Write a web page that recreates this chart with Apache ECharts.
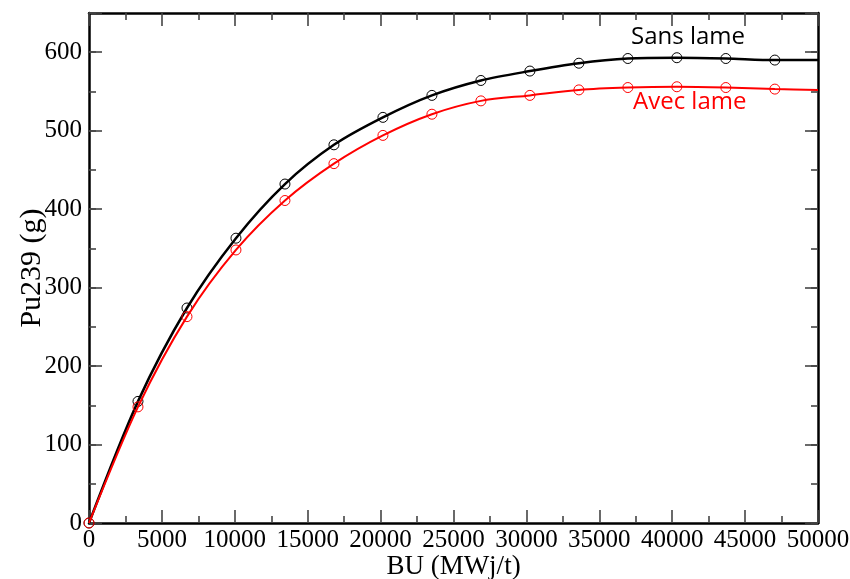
<!DOCTYPE html>
<html>
<head>
<meta charset="utf-8">
<script src="https://cdn.jsdelivr.net/npm/echarts@6/dist/echarts.min.js"></script>
<style>
html,body{margin:0;padding:0;background:#fff;}
#chart{width:850px;height:579px;}
</style>
</head>
<body>
<div id="chart"></div>
<script>
// Burnup (MWj/t)
var bu = [0, 3360, 6720, 10080, 13440, 16800, 20160, 23520, 26880, 30240, 33600, 36960, 40320, 43680, 47040, 50000];
// Pu239 (g) - Sans lame
var sansLame = [0, 155, 274, 363, 432, 482, 517, 545, 564, 576, 586, 592, 593, 592, 590, 590];
// Pu239 (g) - Avec lame
var avecLame = [0, 148, 263, 348, 411, 458, 494, 521, 538, 545, 552, 555, 556, 555, 553, 552];

var xTitle = 'BU (MWj/t)';
var yTitle = 'Pu239 (g)';
var nameSans = 'Sans lame';
var nameAvec = 'Avec lame';

function build(ys) {
  return bu.map(function (x, i) {
    var p = { value: [x, ys[i]] };
    if (i === bu.length - 1) p.symbol = 'none';
    return p;
  });
}

var serif = '"Liberation Serif", "DejaVu Serif", serif';
var tickStyle = { color: '#444', width: 1.6 };

// Tick-only y axis (no labels, no name)
function yTicks(gridIndex, pos, interval, len, line) {
  return {
    type: 'value', gridIndex: gridIndex, position: pos, min: 0, max: 650, interval: interval,
    splitLine: { show: false },
    axisLine: { show: line, lineStyle: { color: '#000', width: 2.5 } },
    axisTick: { show: true, inside: true, length: len, lineStyle: tickStyle },
    axisLabel: { show: false }
  };
}

// Label/name-only y axis
var yLabelAxis = {
  type: 'value', gridIndex: 3, position: 'left', min: 0, max: 650, interval: 100,
  splitLine: { show: false },
  axisLine: { show: false },
  axisTick: { show: false },
  axisLabel: {
    show: true, color: '#000', fontFamily: serif, fontSize: 25, margin: 7,
    formatter: function (v) { return v % 100 === 0 ? String(v) : ''; }
  },
  name: yTitle, nameLocation: 'middle', nameGap: 42, nameMoveOverlap: false,
  nameTextStyle: { color: '#000', fontFamily: serif, fontSize: 30 }
};

// Hidden y axis for the grid that only carries the top x axis
var yHidden = { type: 'value', gridIndex: 2, min: 0, max: 650, show: false };

function xAxisDef(gridIndex, pos, labels, show) {
  var lineOpt = { show: true, lineStyle: { color: '#000', width: 2.5 } };
  if (pos === 'top') lineOpt.onZero = false;
  return {
    type: 'value', gridIndex: gridIndex, position: pos, min: 0, max: 50000, interval: 5000,
    show: show,
    splitLine: { show: false },
    axisLine: lineOpt,
    axisTick: { show: true, inside: true, length: 13, lineStyle: tickStyle },
    minorTick: { show: true, splitNumber: 2, length: 7, lineStyle: tickStyle },
    axisLabel: labels ? {
      show: true, color: '#000', fontFamily: serif, fontSize: 25, margin: 5,
      formatter: function (v) { return String(v); }
    } : { show: false },
    name: labels ? xTitle : '',
    nameLocation: 'middle', nameGap: 30, nameMoveOverlap: false,
    nameTextStyle: { color: '#000', fontFamily: serif, fontSize: 27 }
  };
}

var gridBox = { left: 89, right: 32, top: 13, bottom: 56, containLabel: false, outerBoundsMode: 'none' };

var chart = echarts.init(document.getElementById('chart'), null, { renderer: 'canvas' });
chart.setOption({
  backgroundColor: '#fff',
  animation: false,
  grid: [Object.assign({}, gridBox), Object.assign({}, gridBox), Object.assign({}, gridBox), Object.assign({}, gridBox)],
  xAxis: [
    xAxisDef(0, 'bottom', true, true),
    xAxisDef(1, 'bottom', false, false),
    xAxisDef(2, 'top', false, true),
    xAxisDef(3, 'bottom', false, false)
  ],
  yAxis: [
    yTicks(0, 'left', 100, 13, true),
    yTicks(0, 'right', 100, 13, true),
    yTicks(1, 'left', 50, 7, false),
    yTicks(1, 'right', 50, 7, false),
    yHidden,
    yLabelAxis
  ],
  series: [
    {
      name: nameSans, type: 'line', xAxisIndex: 0, yAxisIndex: 0,
      data: build(sansLame), smooth: 0.3,
      symbol: 'circle', symbolSize: 10,
      lineStyle: { color: '#000', width: 2.5 },
      itemStyle: { color: 'transparent', borderColor: '#000', borderWidth: 1 },
      z: 3
    },
    {
      name: nameAvec, type: 'line', xAxisIndex: 0, yAxisIndex: 0,
      data: build(avecLame), smooth: 0.3,
      symbol: 'circle', symbolSize: 10,
      lineStyle: { color: '#ff0000', width: 2 },
      itemStyle: { color: 'transparent', borderColor: '#ff0000', borderWidth: 1 },
      z: 4
    }
  ],
  graphic: [
    { type: 'text', left: 631, top: 25, style: { text: nameSans, fill: '#000', font: '24px "Open Sans", sans-serif' } },
    { type: 'text', left: 633, top: 90, style: { text: nameAvec, fill: '#ff0000', font: '24px "Open Sans", sans-serif' } }
  ]
});
</script>
</body>
</html>
